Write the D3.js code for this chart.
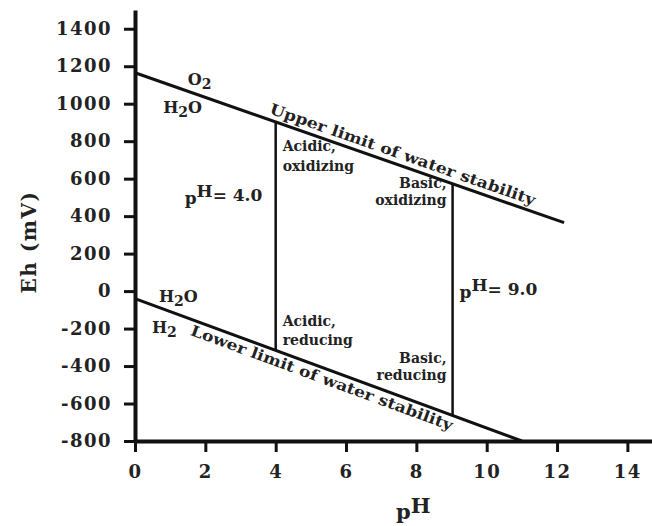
<!DOCTYPE html>
<html>
<head>
<meta charset="utf-8">
<script src="https://cdn.jsdelivr.net/npm/d3@7"></script>
<style>
  body { margin: 0; background: #fff; }
  svg { display: block; }
  .tick text { font-family: "DejaVu Serif", serif; font-weight: bold; font-size: 18px; fill: #222; letter-spacing: 1.5px; }
  .note { font-family: "DejaVu Serif", serif; font-weight: bold; font-size: 14px; fill: #222; }
</style>
</head>
<body>
<div id="chart"></div>
<script>
// values
const phTicks = [0, 2, 4, 6, 8, 10, 12, 14];
const ehTicks = [-800, -600, -400, -200, 0, 200, 400, 600, 800, 1000, 1200, 1400];
const upperLimit = [{ph: 0, eh: 1165}, {ph: 12.2, eh: 365}];
const lowerLimit = [{ph: 0, eh: -40}, {ph: 11, eh: -800}];
const boundaries = [{ph: 4, label: "4.0"}, {ph: 9.03, label: "9.0"}];

const width = 652, height = 526;
const x = d3.scaleLinear().domain([0, 14.7]).range([135, 652]);
const y = d3.scaleLinear().domain([-800, 1500]).range([441, 10]);

const svg = d3.select("#chart").append("svg")
    .attr("width", width).attr("height", height);

function lineAt(pts, ph) {
    const t = (ph - pts[0].ph) / (pts[1].ph - pts[0].ph);
    return pts[0].eh + t * (pts[1].eh - pts[0].eh);
}
function angleOf(pts) {
    return Math.atan2(y(pts[1].eh) - y(pts[0].eh), x(pts[1].ph) - x(pts[0].ph)) * 180 / Math.PI;
}

// axes
const yAxis = svg.append("g").attr("transform", `translate(${x(0)},0)`)
    .call(d3.axisLeft(y).tickValues(ehTicks).tickFormat(d => String(d))
        .tickSize(11).tickPadding(12).tickSizeOuter(0));
const xAxis = svg.append("g").attr("transform", `translate(0,${y(-800)})`)
    .call(d3.axisBottom(x).tickValues(phTicks).tickFormat(d => String(d))
        .tickSize(11).tickPadding(13).tickSizeOuter(0));
[yAxis, xAxis].forEach(a => {
    a.select(".domain").attr("stroke", "#111").attr("stroke-width", 4);
    a.selectAll(".tick line").attr("stroke", "#111").attr("stroke-width", 3);
});

const line = d3.line().x(d => x(d.ph)).y(d => y(d.eh));
svg.append("path").attr("d", line(upperLimit)).attr("fill", "none")
    .attr("stroke", "#111").attr("stroke-width", 3);
svg.append("path").attr("d", line(lowerLimit)).attr("fill", "none")
    .attr("stroke", "#111").attr("stroke-width", 3);

svg.selectAll(".bound").data(boundaries).join("line")
    .attr("class", "bound")
    .attr("x1", d => x(d.ph)).attr("x2", d => x(d.ph))
    .attr("y1", d => y(lineAt(upperLimit, d.ph)))
    .attr("y2", d => y(Math.max(lineAt(lowerLimit, d.ph), -800)))
    .attr("stroke", "#111").attr("stroke-width", 2.5);

// axis titles
svg.append("text")
    .attr("transform", `translate(36,242) rotate(-90)`)
    .attr("text-anchor", "middle")
    .style("font-family", "DejaVu Serif, serif").style("font-weight", "bold")
    .style("font-size", "20px").style("letter-spacing", "1.5px").attr("fill", "#222")
    .text("Eh (mV)");

function phLabel(px, py, size, rise, rest) {
    const t = svg.append("text").attr("x", px).attr("y", py)
        .style("font-family", "DejaVu Serif, serif").style("font-weight", "bold")
        .style("font-size", size + "px").attr("fill", "#222");
    t.append("tspan").text("p");
    t.append("tspan").attr("dy", -rise).text("H");
    if (rest) t.append("tspan").attr("dy", rise * 0.6).text(rest);
    return t;
}
phLabel(396, 519, 21, 6, null);

// pH boundary labels
phLabel(x(4) - 91, y(465), 17, 7, "= " + boundaries[0].label);
phLabel(x(9.03) + 7, y(-35), 17, 7, "= " + boundaries[1].label);

// region notes
function note(lines, px, py, anchor, gap) {
    const t = svg.append("text").attr("class", "note")
        .attr("x", px).attr("y", py).attr("text-anchor", anchor);
    lines.forEach((s, i) => t.append("tspan").attr("x", px).attr("dy", i ? gap : 0).text(s));
}
note(["Acidic,", "oxidizing"], x(4) + 7, y(745), "start", 20);
note(["Basic,", "oxidizing"], x(9.03) - 6, y(550), "end", 17);
note(["Acidic,", "reducing"], x(4) + 7, y(-186), "start", 19);
note(["Basic,", "reducing"], x(9.03) - 6, y(-384), "end", 17);

// species labels with subscripts
function species(parts, px, py) {
    const t = svg.append("text").attr("x", px).attr("y", py)
        .style("font-family", "DejaVu Serif, serif").style("font-weight", "bold")
        .style("font-size", "16px").attr("fill", "#222");
    parts.forEach((p, i) => {
        if (p.sub) t.append("tspan").attr("dy", 4).style("font-size", "14px").text(p.sub);
        else t.append("tspan").attr("dy", i ? -4 : 0).text(p.t);
    });
}
species([{t: "O"}, {sub: "2"}], x(1.5), y(1100));
species([{t: "H"}, {sub: "2"}, {t: "O"}], x(0.8), y(950));
species([{t: "H"}, {sub: "2"}, {t: "O"}], x(0.68), y(-58));
species([{t: "H"}, {sub: "2"}], x(0.48), y(-224));

// limit labels along the lines
const upA = angleOf(upperLimit), loA = angleOf(lowerLimit);
svg.append("text").attr("class", "note")
    .attr("transform", `translate(${x(3.75)},${y(lineAt(upperLimit, 3.75))}) rotate(${upA})`)
    .attr("y", -6)
    .style("font-size", "15px")
    .attr("textLength", 280).attr("lengthAdjust", "spacingAndGlyphs")
    .text("Upper limit of water stability");
svg.append("text").attr("class", "note")
    .attr("transform", `translate(${x(1.7)},${y(lineAt(lowerLimit, 1.7))}) rotate(${loA})`)
    .attr("y", 15)
    .style("font-size", "15px")
    .attr("textLength", 278).attr("lengthAdjust", "spacingAndGlyphs")
    .text("Lower limit of water stability");
</script>
</body>
</html>
